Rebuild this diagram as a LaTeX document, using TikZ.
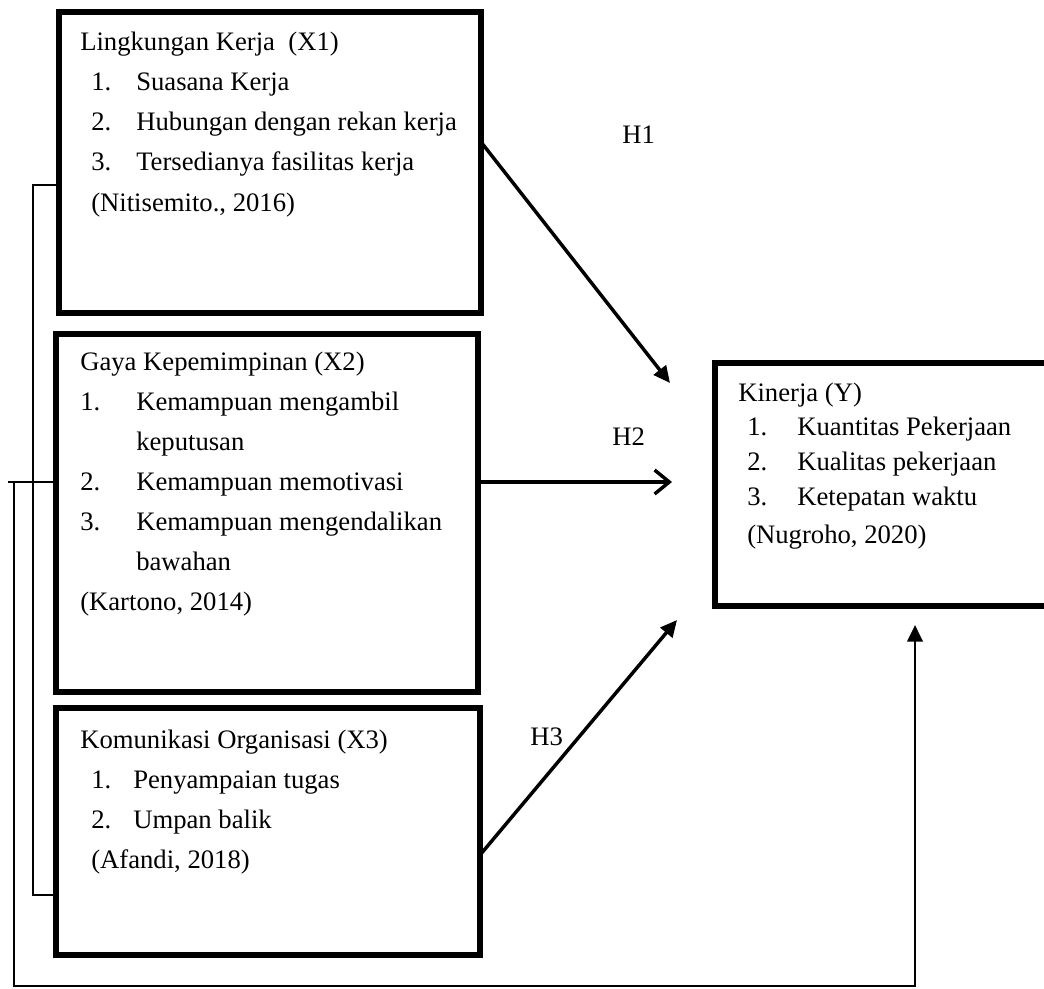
\documentclass[tikz,border=0pt]{standalone}
\usepackage{fontspec}
\setmainfont{Liberation Serif}
\usetikzlibrary{arrows.meta}
\begin{document}
\begin{tikzpicture}[x=0.75pt,y=-0.75pt,
  boxst/.style={draw, line width=4.2pt, inner sep=0pt, outer sep=0pt},
  txt/.style={anchor=base west, inner sep=0pt, font=\fontsize{20}{24}\selectfont},
  conn/.style={line width=2.6pt},
  thinln/.style={line width=2.2pt},
  solidtip/.style={-{Triangle[length=12.5pt,width=11.5pt]}},
  barbtip/.style={-{Straight Barb[length=11pt,width=18pt]}}]
\useasboundingbox (0,0) rectangle (1044,988);
% boxes
\node[boxst, minimum width=316.5pt, minimum height=225.75pt] (x1) at (270,162.5) {};
\node[boxst, minimum width=316.5pt, minimum height=268.5pt] (x2) at (267,513) {};
\node[boxst, minimum width=318pt, minimum height=185.25pt] (x3) at (268,831.5) {};
\node[boxst, minimum width=251.25pt, minimum height=182.25pt] (y) at (882.5,484.5) {};
% X1 text
\node[txt] (a0) at (80,51) {Lingkungan Kerja\ \ (X1)};
\node[txt] (a1n) at (91,91) {1.};
\node[txt] (a1) at (136,91) {Suasana Kerja};
\node[txt] (a2n) at (91,131) {2.};
\node[txt] (a2) at (136,131) {Hubungan dengan rekan kerja};
\node[txt] (a3n) at (91,171) {3.};
\node[txt] (a3) at (136,171) {Tersedianya fasilitas kerja};
\node[txt] (a4) at (91,211) {(Nitisemito., 2016)};
% X2 text
\node[txt] (b0) at (80,370) {Gaya Kepemimpinan (X2)};
\node[txt] (b1n) at (80,410) {1.};
\node[txt] (b1) at (136,410) {Kemampuan mengambil};
\node[txt] (b1b) at (136,450) {keputusan};
\node[txt] (b2n) at (80,490) {2.};
\node[txt] (b2) at (136,490) {Kemampuan memotivasi};
\node[txt] (b3n) at (80,530) {3.};
\node[txt] (b3) at (136,530) {Kemampuan mengendalikan};
\node[txt] (b3b) at (136,570) {bawahan};
\node[txt] (b4) at (80,610) {(Kartono, 2014)};
% X3 text
\node[txt] (c0) at (80,748) {Komunikasi Organisasi (X3)};
\node[txt] (c1n) at (91,788) {1.};
\node[txt] (c1) at (133,788) {Penyampaian tugas};
\node[txt] (c2n) at (91,828) {2.};
\node[txt] (c2) at (133,828) {Umpan balik};
\node[txt] (c3) at (91,868) {(Afandi, 2018)};
% Y text
\node[txt] (d0) at (738,401) {Kinerja (Y)};
\node[txt] (d1n) at (747,435) {1.};
\node[txt] (d1) at (797,435) {Kuantitas Pekerjaan};
\node[txt] (d2n) at (747,470) {2.};
\node[txt] (d2) at (797,470) {Kualitas pekerjaan};
\node[txt] (d3n) at (747,505) {3.};
\node[txt] (d3) at (797,505) {Ketepatan waktu};
\node[txt] (d4) at (747,543) {(Nugroho, 2020)};
% hypothesis labels
\node[txt] (h1) at (622,143) {H1};
\node[txt] (h2) at (612,445) {H2};
\node[txt] (h3) at (530,745) {H3};
% helper coordinates
\coordinate (h1s) at (484,142);
\coordinate (h1e) at (670,383);
\coordinate (h2s) at (481,482);
\coordinate (h2e) at (672,482);
\coordinate (h3s) at (482,855);
\coordinate (h3e) at (677,620);
\coordinate (br1) at (33,185);
\coordinate (br3) at (33,895);
\coordinate (j2) at (8,482);
\coordinate (o1) at (14,482);
\coordinate (o2) at (14,986);
\coordinate (ytip) at (915,625);
% arrows
\draw[conn, solidtip] (x1.east |- h1s) -- (h1e);
\draw[conn, barbtip] (x2.east |- h2s) -- (h2e);
\draw[conn, solidtip] (x3.east |- h3s) -- (h3e);
% left connectors
\draw[thinln] (x1.west |- br1) -- (br1) -- (br3) -- (x3.west |- br3);
\draw[thinln] (j2) -- (j2 -| x2.west);
\draw[thinln, solidtip] (o1) -- (o2) -- (ytip |- o2) -- (ytip);
\end{tikzpicture}
\end{document}
